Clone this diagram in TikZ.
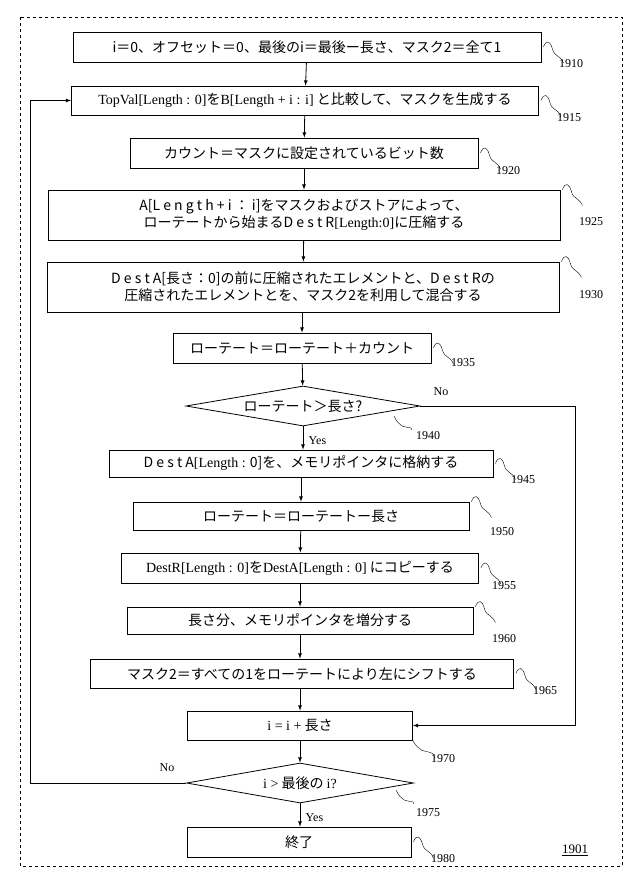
\documentclass[tikz,border=0pt]{standalone}
\usepackage{fontspec}
\setmainfont{Liberation Serif}
\newfontfamily\jp{Noto Sans CJK JP}
\usetikzlibrary{shapes.geometric}
\tikzset{
  stepbox/.style={draw,thick,rectangle,inner sep=0pt,align=center,font=\jp\fontsize{14}{17}\selectfont},
  choice/.style={draw,thick,diamond,aspect=5.7,inner sep=0pt,font=\jp\fontsize{14}{16}\selectfont},
  flow/.style={thick,-latex},
  refno/.style={font=\fontsize{12}{12}\selectfont},
  squig/.style={thin}
}
\newcommand{\squiggle}[1]{\draw[squig] (#1) ++(2,0) .. controls +(3,-8) and +(-2,-8) .. ++(9,2) .. controls +(2,8) and +(-3,-8) .. ++(11,14);}
\begin{document}
\begin{tikzpicture}[x=1pt,y=-1pt]
  \useasboundingbox (0,0) rectangle (640,876);
  \draw[dashed,thin] (20,17) rectangle (622,866);
  % boxes
  \node[stepbox,minimum width=468,minimum height=30] (b1910) at (307,47) {i＝0、オフセット＝0、最後のi＝最後ー長さ、マスク2＝全て1};
  \node[stepbox,minimum width=467,minimum height=29] (b1915) at (305,100.5) {{\rmfamily TopVal{[}Length : 0{]}}を{\rmfamily B{[}Length + i : i{]}} と比較して、マスクを生成する};
  \node[stepbox,minimum width=348,minimum height=30] (b1920) at (304,153) {カウント＝マスクに設定されているビット数};
  \node[stepbox,minimum width=512,minimum height=50] (b1925) at (304,215) {A[L e n g t h + i ： i]をマスクおよびストアによって、\\ローテートから始まるD e s t R{\rmfamily [Length:0]}に圧縮する};
  \node[stepbox,minimum width=512,minimum height=50] (b1930) at (303,287) {D e s t A[長さ：0]の前に圧縮されたエレメントと、D e s t Rの\\圧縮されたエレメントとを、マスク2を利用して混合する};
  \node[stepbox,minimum width=258,minimum height=30] (b1935) at (302,348) {ローテート＝ローテート＋カウント};
  \node[choice,minimum width=234,minimum height=40] (d1940) at (303,406) {ローテート＞長さ?};
  \node[stepbox,minimum width=384,minimum height=27] (b1945) at (301,463.5) {D e s t A{\rmfamily [Length :} 0]を、メモリポインタに格納する};
  \node[stepbox,minimum width=336,minimum height=28] (b1950) at (301,516) {ローテート＝ローテートー長さ};
  \node[stepbox,minimum width=357,minimum height=30] (b1955) at (300,568) {{\rmfamily DestR{[}Length : 0{]}}を{\rmfamily DestA{[}Length : 0{]}} にコピーする};
  \node[stepbox,minimum width=346,minimum height=27] (b1960) at (300,620.5) {長さ分、メモリポインタを増分する};
  \node[stepbox,minimum width=423,minimum height=29] (b1965) at (302,673.5) {マスク2＝すべての1をローテートにより左にシフトする};
  \node[stepbox,minimum width=225,minimum height=29] (b1970) at (300,725.5) {{\rmfamily i = i +} 長さ};
  \node[choice,minimum width=227,minimum height=40] (d1975) at (300,783) {{\rmfamily i >} 最後の {\rmfamily i?}};
  \node[stepbox,minimum width=224,minimum height=30] (b1980) at (299,842) {終了};
  % connectors
  \draw[flow] (b1910) -- (b1915);
  \draw[flow] (b1915) -- (b1920);
  \draw[flow] (b1920) -- (b1925);
  \draw[flow] (b1925) -- (b1930);
  \draw[flow] (b1930.south -| b1935) -- (b1935);
  \draw[flow] (b1935) -- (d1940);
  \draw[flow] (d1940) -- node[right,refno,pos=0.6,xshift=2] {Yes} (b1945.north -| d1940);
  \draw[flow] (b1945.south -| b1950) -- (b1950);
  \draw[flow] (b1950) -- (b1955);
  \draw[flow] (b1955) -- (b1960);
  \draw[flow] (b1960) -- (b1965.north -| b1960);
  \draw[flow] (b1965.south -| b1970) -- (b1970);
  \draw[flow] (b1970) -- (d1975);
  \draw[flow] (d1975) -- node[right,refno,pos=0.6,xshift=2] {Yes} (b1980.north -| d1975);
  \coordinate (noR) at (575,406);
  \draw[flow] (d1940.east) -- (noR) -- (noR |- b1970) -- (b1970.east);
  \node[refno] (no1) at (441,392) {No};
  \coordinate (noL) at (30,783);
  \draw[flow] (d1975.west) -- (noL) -- (noL |- b1915) -- (b1915.west);
  \node[refno] (no2) at (167,768) {No};
  % reference numbers
  \squiggle{b1910.east}
  \node[refno] (n1910) at (571,64) {1910};
  \squiggle{b1915.east}
  \node[refno] (n1915) at (569,118) {1915};
  \squiggle{b1920.east}
  \node[refno] (n1920) at (508,171) {1920};
  \squiggle{b1925.north east}
  \node[refno] (n1925) at (591,222) {1925};
  \squiggle{b1930.north east}
  \node[refno] (n1930) at (591,295) {1930};
  \squiggle{b1935.east}
  \node[refno] (n1935) at (463,363) {1935};
  \draw[squig] (394,416) .. controls +(4,8) and +(-4,-4) .. ++(8,10) .. controls +(10,3) and +(-2,-4) .. ++(10,4);
  \node[refno] (n1940) at (428,436) {1940};
  \squiggle{b1945.east}
  \node[refno] (n1945) at (523,480) {1945};
  \squiggle{b1950.north east}
  \node[refno] (n1950) at (502,532) {1950};
  \squiggle{b1955.east}
  \node[refno] (n1955) at (504,586) {1955};
  \squiggle{b1960.north east}
  \node[refno] (n1960) at (504,639) {1960};
  \squiggle{b1965.east}
  \node[refno] (n1965) at (545,691) {1965};
  \draw[squig] (b1970.south east) .. controls +(4,8) and +(-4,-4) .. ++(9,10) .. controls +(12,3) and +(-2,-6) .. ++(13,8);
  \node[refno] (n1970) at (443,759) {1970};
  \draw[squig] (396,790) .. controls +(4,8) and +(-4,-4) .. ++(8,10) .. controls +(10,3) and +(-2,-4) .. ++(10,4);
  \node[refno] (n1975) at (428,813) {1975};
  \squiggle{b1980.east}
  \node[refno] (n1980) at (443,859) {1980};
  \node[refno,font=\fontsize{13}{13}\selectfont] (n1901) at (575,850) {\underline{1901}};
\end{tikzpicture}
\end{document}
